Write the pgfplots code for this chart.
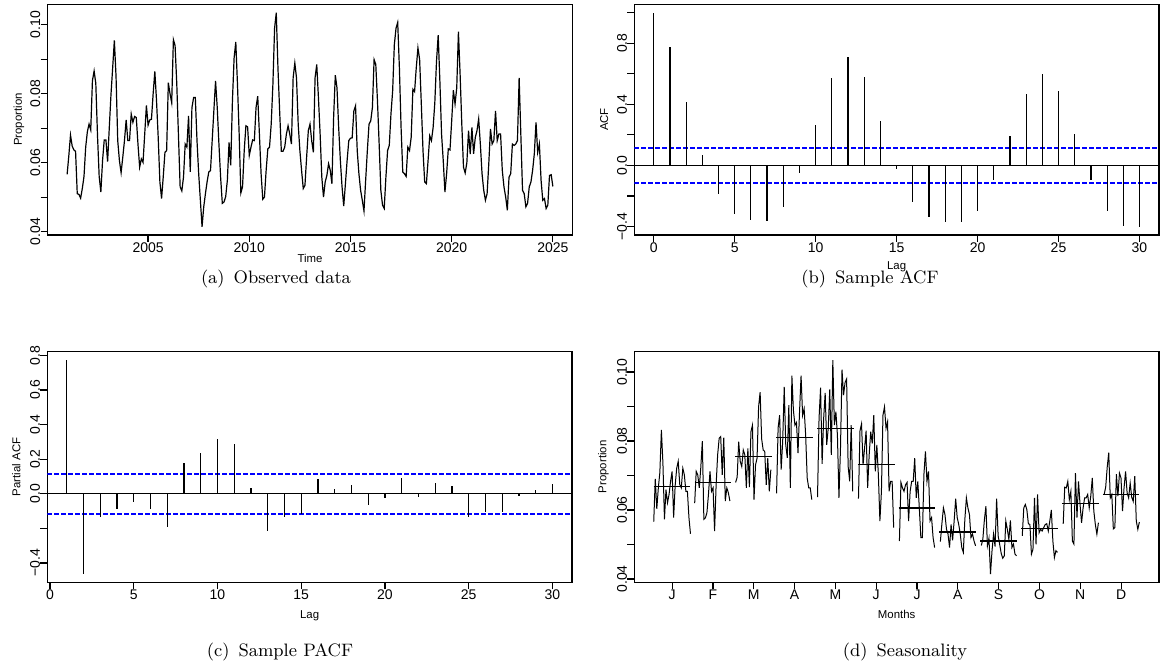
\documentclass[border=0pt]{standalone}
\usepackage{fontspec}
\setmainfont{Latin Modern Roman}
\newfontfamily\rsans{Liberation Sans}
\usepackage{pgfplots}
\usepackage{pgfplotstable}
\pgfplotsset{compat=1.18}

% monthly proportion, t = 0 is Jan 2001
\pgfplotstableread[row sep=\\]{
t v\\
0 0.0566\\ 1 0.0620\\ 2 0.0680\\ 3 0.0648\\ 4 0.0637\\ 5 0.0633\\ 6 0.0510\\ 7 0.0508\\ 8 0.0497\\ 9 0.0525\\ 10 0.0560\\ 11 0.0645\\
12 0.0690\\ 13 0.0712\\ 14 0.0695\\ 15 0.0838\\ 16 0.0866\\ 17 0.0830\\ 18 0.0680\\ 19 0.0560\\ 20 0.0515\\ 21 0.0606\\ 22 0.0666\\ 23 0.0666\\
24 0.0603\\ 25 0.0702\\ 26 0.0798\\ 27 0.0875\\ 28 0.0955\\ 29 0.0850\\ 30 0.0664\\ 31 0.0606\\ 32 0.0571\\ 33 0.0616\\ 34 0.0664\\ 35 0.0724\\
36 0.0664\\ 37 0.0664\\ 38 0.0741\\ 39 0.0717\\ 40 0.0734\\ 41 0.0731\\ 42 0.0654\\ 43 0.0587\\ 44 0.0611\\ 45 0.0601\\ 46 0.0683\\ 47 0.0766\\
48 0.0709\\ 49 0.0724\\ 50 0.0726\\ 51 0.0800\\ 52 0.0865\\ 53 0.0780\\ 54 0.0673\\ 55 0.0544\\ 56 0.0496\\ 57 0.0560\\ 58 0.0630\\ 59 0.0635\\
60 0.0832\\ 61 0.0800\\ 62 0.0774\\ 63 0.0957\\ 64 0.0940\\ 65 0.0830\\ 66 0.0680\\ 67 0.0530\\ 68 0.0518\\ 69 0.0558\\ 70 0.0654\\ 71 0.0645\\
72 0.0736\\ 73 0.0573\\ 74 0.0760\\ 75 0.0789\\ 76 0.0789\\ 77 0.0664\\ 78 0.0568\\ 79 0.0491\\ 80 0.0414\\ 81 0.0472\\ 82 0.0510\\ 83 0.0545\\
84 0.0573\\ 85 0.0577\\ 86 0.0664\\ 87 0.0751\\ 88 0.0837\\ 89 0.0760\\ 90 0.0654\\ 91 0.0558\\ 92 0.0482\\ 93 0.0486\\ 94 0.0501\\ 95 0.0549\\
96 0.0659\\ 97 0.0592\\ 98 0.0779\\ 99 0.0904\\ 100 0.0950\\ 101 0.0827\\ 102 0.0683\\ 103 0.0512\\ 104 0.0530\\ 105 0.0635\\ 106 0.0707\\ 107 0.0704\\
108 0.0621\\ 109 0.0645\\ 110 0.0666\\ 111 0.0664\\ 112 0.0760\\ 113 0.0793\\ 114 0.0683\\ 115 0.0568\\ 116 0.0494\\ 117 0.0500\\ 118 0.0578\\ 119 0.0640\\
120 0.0645\\ 121 0.0712\\ 122 0.0827\\ 123 0.0990\\ 124 0.1035\\ 125 0.0875\\ 126 0.0750\\ 127 0.0633\\ 128 0.0633\\ 129 0.0645\\ 130 0.0683\\ 131 0.0707\\
132 0.0683\\ 133 0.0654\\ 134 0.0846\\ 135 0.0889\\ 136 0.0846\\ 137 0.0712\\ 138 0.0635\\ 139 0.0578\\ 140 0.0525\\ 141 0.0534\\ 142 0.0616\\ 143 0.0693\\
144 0.0712\\ 145 0.0664\\ 146 0.0630\\ 147 0.0846\\ 148 0.0885\\ 149 0.0789\\ 150 0.0683\\ 151 0.0558\\ 152 0.0500\\ 153 0.0544\\ 154 0.0563\\ 155 0.0597\\
156 0.0578\\ 157 0.0539\\ 158 0.0731\\ 159 0.0854\\ 160 0.0817\\ 161 0.0702\\ 162 0.0606\\ 163 0.0530\\ 164 0.0474\\ 165 0.0539\\ 166 0.0606\\ 167 0.0664\\
168 0.0671\\ 169 0.0672\\ 170 0.0750\\ 171 0.0765\\ 172 0.0635\\ 173 0.0568\\ 174 0.0520\\ 175 0.0491\\ 176 0.0460\\ 177 0.0549\\ 178 0.0635\\ 179 0.0712\\
180 0.0721\\ 181 0.0760\\ 182 0.0899\\ 183 0.0885\\ 184 0.0779\\ 185 0.0654\\ 186 0.0520\\ 187 0.0477\\ 188 0.0467\\ 189 0.0558\\ 190 0.0635\\ 191 0.0650\\
192 0.0741\\ 193 0.0808\\ 194 0.0942\\ 195 0.0990\\ 196 0.1007\\ 197 0.0875\\ 198 0.0702\\ 199 0.0573\\ 200 0.0568\\ 201 0.0560\\ 202 0.0645\\ 203 0.0635\\
204 0.0674\\ 205 0.0813\\ 206 0.0806\\ 207 0.0875\\ 208 0.0933\\ 209 0.0899\\ 210 0.0770\\ 211 0.0635\\ 212 0.0544\\ 213 0.0539\\ 214 0.0606\\ 215 0.0678\\
216 0.0664\\ 217 0.0702\\ 218 0.0774\\ 219 0.0894\\ 220 0.0970\\ 221 0.0837\\ 222 0.0683\\ 223 0.0606\\ 224 0.0515\\ 225 0.0568\\ 226 0.0640\\ 227 0.0637\\
228 0.0721\\ 229 0.0810\\ 230 0.0770\\ 231 0.0817\\ 232 0.0980\\ 233 0.0856\\ 234 0.0712\\ 235 0.0587\\ 236 0.0570\\ 237 0.0600\\ 238 0.0693\\ 239 0.0625\\
240 0.0702\\ 241 0.0626\\ 242 0.0673\\ 243 0.0693\\ 244 0.0727\\ 245 0.0654\\ 246 0.0568\\ 247 0.0520\\ 248 0.0491\\ 249 0.0510\\ 250 0.0597\\ 251 0.0698\\
252 0.0654\\ 253 0.0664\\ 254 0.0750\\ 255 0.0664\\ 256 0.0683\\ 257 0.0683\\ 258 0.0578\\ 259 0.0530\\ 260 0.0501\\ 261 0.0462\\ 262 0.0558\\ 263 0.0568\\
264 0.0654\\ 265 0.0650\\ 266 0.0654\\ 267 0.0664\\ 268 0.0846\\ 269 0.0683\\ 270 0.0520\\ 271 0.0510\\ 272 0.0472\\ 273 0.0482\\ 274 0.0530\\ 275 0.0544\\
276 0.0578\\ 277 0.0626\\ 278 0.0717\\ 279 0.0630\\ 280 0.0654\\ 281 0.0549\\ 282 0.0491\\ 283 0.0496\\ 284 0.0467\\ 285 0.0477\\ 286 0.0563\\ 287 0.0565\\
288 0.0531\\
}\series

% monthly means, drawn as bars from m-0.45 to m+0.45
\pgfplotstableread[row sep=\\]{
x y\\
0.55 0.0667\\ 1.45 0.0667\\ nan nan\\
1.55 0.0680\\ 2.45 0.0680\\ nan nan\\
2.55 0.0755\\ 3.45 0.0755\\ nan nan\\
3.55 0.0810\\ 4.45 0.0810\\ nan nan\\
4.55 0.0837\\ 5.45 0.0837\\ nan nan\\
5.55 0.0732\\ 6.45 0.0732\\ nan nan\\
6.55 0.0606\\ 7.45 0.0606\\ nan nan\\
7.55 0.0536\\ 8.45 0.0536\\ nan nan\\
8.55 0.0510\\ 9.45 0.0510\\ nan nan\\
9.55 0.0546\\ 10.45 0.0546\\ nan nan\\
10.55 0.0619\\ 11.45 0.0619\\ nan nan\\
11.55 0.0645\\ 12.45 0.0645\\
}\means

\pgfplotsset{
  rpanel/.style={
    scale only axis, width=262.3pt, height=115.4pt, anchor=south west,
    axis line style={line width=0.6pt},
    tick align=outside, major tick length=3.5pt,
    xtick pos=left, ytick pos=left,
    tick style={line width=0.6pt, black},
    every tick label/.append style={font=\rsans\fontsize{7}{8}\selectfont},
    xticklabel style={anchor=north, inner sep=0pt},
    yticklabel style={rotate=90, anchor=south, inner sep=0pt},
    label style={font=\rsans\fontsize{5.7}{7}\selectfont},
  },
  conf/.style={color={rgb,255:red,0;green,0;blue,255}, line width=0.85pt, dash pattern=on 2.2pt off 1.3pt},
}

\begin{document}
\begin{tikzpicture}
\useasboundingbox (0,0) rectangle (580pt,334pt);

% (a) observed series
\begin{axis}[rpanel, at={(23.85pt,216.5pt)},
  xmin=2000.04, xmax=2025.96, ymin=0.03902, ymax=0.10598,
  xtick={2005,2010,2015,2020,2025}, xticklabels={2005,2010,2015,2020,2025},
  ytick={0.04,0.05,0.06,0.07,0.08,0.09,0.10}, yticklabels={0.04,,0.06,,0.08,,0.10},
  xlabel={Time}, ylabel={Proportion},
  xlabel style={at={(axis description cs:0.5,-0.1),}, anchor=center},
  ylabel style={at={(axis description cs:-0.0547,0.5)}, anchor=center},
]
\addplot[black, line width=0.6pt] table[x expr=2001+\thisrow{t}/12, y=v] {\series};
\end{axis}

% (b) ACF
\begin{axis}[rpanel, at={(317.15pt,216.5pt)},
  xmin=-1.2, xmax=31.2, ymin=-0.456, ymax=1.056,
  xtick={0,5,10,15,20,25,30}, xticklabels={0,5,10,15,20,25,30},
  ytick={-0.4,-0.2,0,0.2,0.4,0.6,0.8,1.0}, yticklabels={−0.4,,0.0,,0.4,,0.8,},
  xlabel={Lag}, ylabel={ACF},
  xlabel style={at={(axis description cs:0.5,-0.136)}, anchor=center},
  ylabel style={at={(axis description cs:-0.0572,0.5)}, anchor=center},
]
\addplot[black, line width=0.6pt] coordinates {(-1.2,0) (31.2,0)};
\addplot[conf] coordinates {(-1.2,0.115) (31.2,0.115)};
\addplot[conf] coordinates {(-1.2,-0.115) (31.2,-0.115)};
\addplot[ycomb, black, line width=0.6pt] coordinates {
  (0,1.000) (1,0.778) (2,0.417) (3,0.070) (4,-0.186) (5,-0.318) (6,-0.355)
  (7,-0.362) (8,-0.270) (9,-0.053) (10,0.263) (11,0.570) (12,0.708) (13,0.581)
  (14,0.294) (15,-0.024) (16,-0.237) (17,-0.338) (18,-0.368) (19,-0.373)
  (20,-0.298) (21,-0.094) (22,0.195) (23,0.467) (24,0.599) (25,0.485)
  (26,0.208) (27,-0.094) (28,-0.300) (29,-0.395) (30,-0.403)
};
\end{axis}

% (c) PACF
\begin{axis}[rpanel, at={(23.65pt,42.85pt)},
  xmin=-0.16, xmax=31.16, ymin=-0.512, ymax=0.822,
  xtick={0,5,10,15,20,25,30}, xticklabels={0,5,10,15,20,25,30},
  ytick={-0.4,-0.2,0,0.2,0.4,0.6,0.8}, yticklabels={−0.4,,0.0,0.2,0.4,0.6,0.8},
  xlabel={Lag}, ylabel={Partial ACF},
  xlabel style={at={(axis description cs:0.5,-0.143)}, anchor=center},
  ylabel style={at={(axis description cs:-0.0591,0.5)}, anchor=center},
]
\addplot[black, line width=0.6pt] coordinates {(-0.16,0) (31.16,0)};
\addplot[conf] coordinates {(-0.16,0.115) (31.16,0.115)};
\addplot[conf] coordinates {(-0.16,-0.117) (31.16,-0.117)};
\addplot[ycomb, black, line width=0.6pt] coordinates {
  (1,0.775) (2,-0.463) (3,-0.133) (4,-0.087) (5,-0.048) (6,-0.090) (7,-0.190)
  (8,0.175) (9,0.237) (10,0.319) (11,0.287) (12,0.031) (13,-0.213) (14,-0.133)
  (15,-0.117) (16,0.083) (17,0.029) (18,0.052) (19,-0.065) (20,-0.027)
  (21,0.090) (22,-0.019) (23,0.060) (24,0.044) (25,-0.133) (26,-0.108)
  (27,-0.104) (28,-0.012) (29,0.019) (30,0.058)
};
\end{axis}

% (d) month plot
\begin{axis}[rpanel, at={(317.15pt,42.85pt)},
  xmin=0.074, xmax=12.926, ymin=0.03902, ymax=0.10598,
  xtick={1,2,3,4,5,6,7,8,9,10,11,12}, xticklabels={J,F,M,A,M,J,J,A,S,O,N,D},
  ytick={0.04,0.05,0.06,0.07,0.08,0.09,0.10}, yticklabels={0.04,,0.06,,0.08,,0.10},
  xlabel={Months}, ylabel={Proportion},
  xlabel style={at={(axis description cs:0.5,-0.141)}, anchor=center},
  ylabel style={at={(axis description cs:-0.0591,0.5)}, anchor=center},
  unbounded coords=discard,
]
\pgfplotsinvokeforeach{0,...,11}{
  \addplot[black, line width=0.5pt]
    table[x expr={abs(\thisrow{t}-12*floor((\thisrow{t}+0.5)/12)-#1)<0.5 ? #1+0.55+0.9*\thisrow{t}/288 : nan},
          y=v] {\series};
}
\addplot[black, line width=0.6pt, unbounded coords=jump] table[x=x, y=y] {\means};
\end{axis}

\node[anchor=base, font=\fontsize{9}{11}\selectfont] at (138pt,192pt) {(a)\enspace Observed data};
\node[anchor=base, font=\fontsize{9}{11}\selectfont] at (435pt,192pt) {(b)\enspace Sample ACF};
\node[anchor=base, font=\fontsize{9}{11}\selectfont] at (140pt,5.5pt) {(c)\enspace Sample PACF};
\node[anchor=base, font=\fontsize{9}{11}\selectfont] at (452.5pt,5.5pt) {(d)\enspace Seasonality};
\end{tikzpicture}
\end{document}
